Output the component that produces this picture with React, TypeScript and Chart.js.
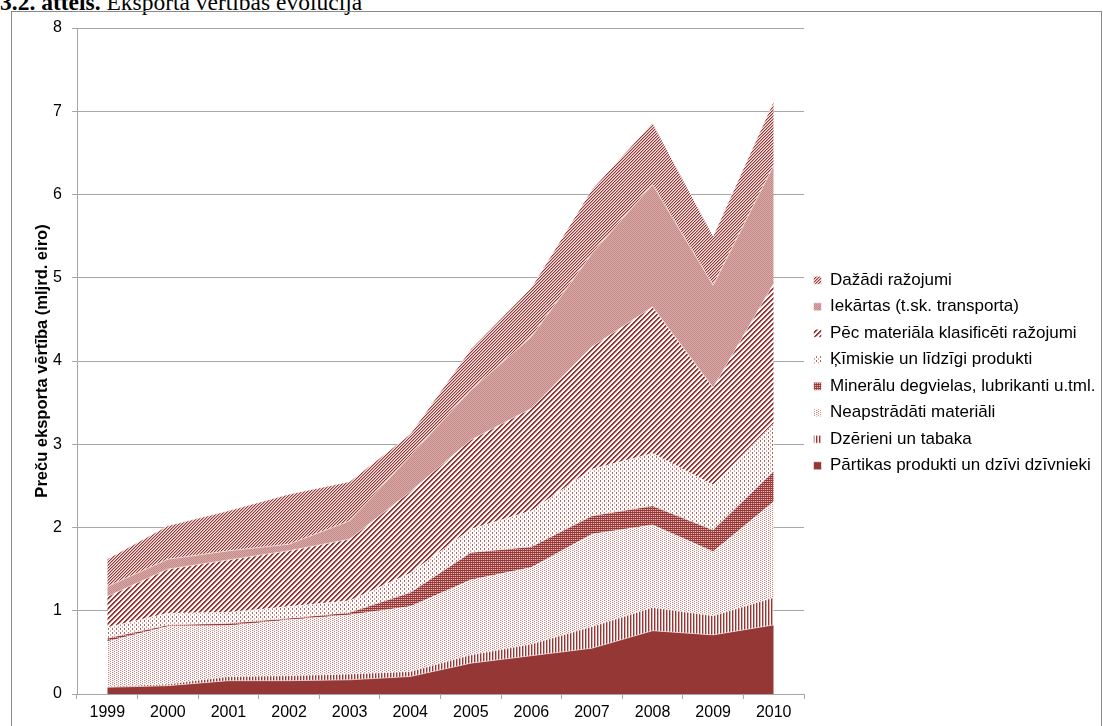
import React, { useEffect, useRef } from "react";
import { Chart, registerables } from "chart.js";

Chart.register(...registerables);

// ---- Data (mljrd. eiro) ----
const years = ["1999", "2000", "2001", "2002", "2003", "2004", "2005", "2006", "2007", "2008", "2009", "2010"];

const partikas = [0.08, 0.10, 0.16, 0.16, 0.17, 0.21, 0.37, 0.46, 0.55, 0.76, 0.71, 0.83];
const dzerieni = [0.01, 0.02, 0.05, 0.06, 0.07, 0.06, 0.10, 0.14, 0.26, 0.28, 0.23, 0.33];
const neapstradati = [0.54, 0.69, 0.61, 0.67, 0.71, 0.78, 0.90, 0.92, 1.11, 0.99, 0.77, 1.15];
const mineralu = [0.04, 0.02, 0.03, 0.02, 0.03, 0.17, 0.33, 0.25, 0.22, 0.23, 0.26, 0.37];
const kimiskie = [0.13, 0.14, 0.13, 0.14, 0.14, 0.23, 0.28, 0.43, 0.56, 0.63, 0.54, 0.57];
const pecMateriala = [0.37, 0.53, 0.63, 0.67, 0.74, 0.98, 1.07, 1.23, 1.47, 1.76, 1.17, 1.68];
const iekartas = [0.12, 0.12, 0.11, 0.08, 0.22, 0.43, 0.60, 0.86, 1.12, 1.47, 1.23, 1.42];
const dazadi = [0.33, 0.40, 0.48, 0.60, 0.47, 0.26, 0.49, 0.59, 0.77, 0.74, 0.59, 0.77];

const seriesNames = [
  "Pārtikas produkti un dzīvi dzīvnieki",
  "Dzērieni un tabaka",
  "Neapstrādāti materiāli",
  "Minerālu degvielas, lubrikanti u.tml.",
  "Ķīmiskie un līdzīgi produkti",
  "Pēc materiāla klasificēti ražojumi",
  "Iekārtas (t.sk. transporta)",
  "Dažādi ražojumi",
];

const yTicks = [0, 1, 2, 3, 4, 5, 6, 7, 8];

const DARK = "#953735";

function makePattern(w: number, h: number, px: (x: number, y: number) => string | null): CanvasPattern | string {
  const c = document.createElement("canvas");
  c.width = w;
  c.height = h;
  const g = c.getContext("2d");
  if (!g) return DARK;
  g.fillStyle = "#ffffff";
  g.fillRect(0, 0, w, h);
  for (let y = 0; y < h; y++) {
    for (let x = 0; x < w; x++) {
      const col = px(x, y);
      if (col) {
        g.fillStyle = col;
        g.fillRect(x, y, 1, 1);
      }
    }
  }
  return g.createPattern(c, "repeat") || DARK;
}

function buildFills() {
  const solid = DARK;
  const vStripes = makePattern(3, 1, (x) => (x === 0 ? DARK : x === 1 ? "#d9a9a8" : null));
  const sparseDots = makePattern(4, 2, (x, y) =>
    (x === 0 && y === 0) || (x === 2 && y === 1) ? "#c98886" : x === 1 && y === 0 ? "#f0dada" : null
  );
  const denseChecker = makePattern(2, 2, (x, y) => (x === 1 && y === 1 ? "#e2b9b8" : x === 0 && y === 1 ? "#a9504e" : DARK));
  const dashes = makePattern(4, 4, (x, y) =>
    x === 0 && y < 2 ? "#bd5f5d" : x === 2 && y >= 2 ? "#dca6a5" : null
  );
  const wideDiag = makePattern(5, 5, (x, y) => {
    const k = (x + y) % 5;
    return k === 0 || k === 1 ? DARK : k === 2 ? "#e0b4b3" : null;
  });
  const fineChecker = makePattern(2, 2, (x, y) => ((x + y) % 2 === 0 ? "#c48a88" : "#d8a9a8"));
  const fineDiag = makePattern(3, 3, (x, y) => {
    const k = (x + y) % 3;
    return k === 0 ? DARK : k === 1 ? "#d3a09f" : "#f6e6e6";
  });
  return [solid, vStripes, sparseDots, denseChecker, dashes, wideDiag, fineChecker, fineDiag];
}

export default function App() {
  const canvasRef = useRef<HTMLCanvasElement | null>(null);

  useEffect(() => {
    const canvas = canvasRef.current;
    if (!canvas) return;
    const fills = buildFills();
    const values = [partikas, dzerieni, neapstradati, mineralu, kimiskie, pecMateriala, iekartas, dazadi];
    const datasets = values.map((d, i) => ({
      label: seriesNames[i],
      data: d,
      backgroundColor: fills[i] as any,
      borderColor: "rgba(255,255,255,0.55)",
      borderWidth: 1,
      pointRadius: 0,
      pointHoverRadius: 0,
      tension: 0,
      fill: i === 0 ? "origin" : "-1",
    }));

    const axisGray = "#a6a6a6";
    const chart = new Chart(canvas, {
      type: "line",
      data: { labels: years, datasets: datasets as any },
      options: {
        animation: false,
        responsive: false,
        devicePixelRatio: 1,
        layout: { padding: { top: 28, bottom: 8, left: 29, right: 0 } },
        plugins: {
          title: { display: false },
          tooltip: { enabled: false },
          legend: {
            position: "right",
            reverse: true,
            maxWidth: 299,
            labels: {
              boxWidth: 8,
              boxHeight: 8,
              padding: 9.5,
              color: "#000000",
              font: { family: "'Liberation Sans', Arial, sans-serif", size: 17 },
            },
          },
        },
        scales: {
          x: {
            type: "category",
            offset: true,
            grid: {
              offset: true,
              drawOnChartArea: false,
              drawTicks: true,
              tickLength: 5,
              color: axisGray,
            },
            border: { display: true, color: axisGray },
            ticks: {
              color: "#000000",
              padding: 4,
              maxRotation: 0,
              autoSkip: false,
              font: { family: "'Liberation Sans', Arial, sans-serif", size: 16 },
            },
            afterFit: (s: any) => {
              s.height = 24;
            },
          },
          y: {
            stacked: true,
            min: 0,
            max: 8,
            afterBuildTicks: (s: any) => {
              s.ticks = yTicks.map((v) => ({ value: v }));
            },
            grid: { color: axisGray, tickLength: 5, drawTicks: true },
            border: { display: true, color: axisGray },
            ticks: {
              color: "#000000",
              padding: 10,
              font: { family: "'Liberation Sans', Arial, sans-serif", size: 16 },
            },
            title: {
              display: true,
              text: "Preču eksporta vērtība (mljrd. eiro)",
              color: "#000000",
              font: { family: "'Liberation Sans', Arial, sans-serif", size: 16.5, weight: "bold" },
              padding: { top: 4, bottom: 4 },
            },
            afterFit: (s: any) => {
              s.width = 48;
            },
          },
        },
      },
    });
    return () => chart.destroy();
  }, []);

  return (
    <div
      style={{
        position: "fixed",
        left: 0,
        top: 0,
        width: 1103,
        height: 726,
        overflow: "hidden",
        background: "#ffffff",
      }}
    >
      <div
        style={{
          position: "absolute",
          left: 0,
          top: -9,
          whiteSpace: "nowrap",
          fontFamily: "'Liberation Serif', 'DejaVu Serif', serif",
          fontSize: 23.5,
          lineHeight: "23.5px",
          color: "#000",
        }}
      >
        <b>3.2. attēls.</b> Eksporta vērtības evolūcija
      </div>
      <div
        style={{
          position: "absolute",
          left: 11,
          top: 11,
          width: 1089,
          height: 760,
          border: "1px solid #8a8a8a",
          boxSizing: "content-box",
        }}
      />
      <canvas
        ref={canvasRef}
        width={1103}
        height={726}
        style={{ position: "absolute", left: 0, top: 0, width: 1103, height: 726 }}
      />
    </div>
  );
}
